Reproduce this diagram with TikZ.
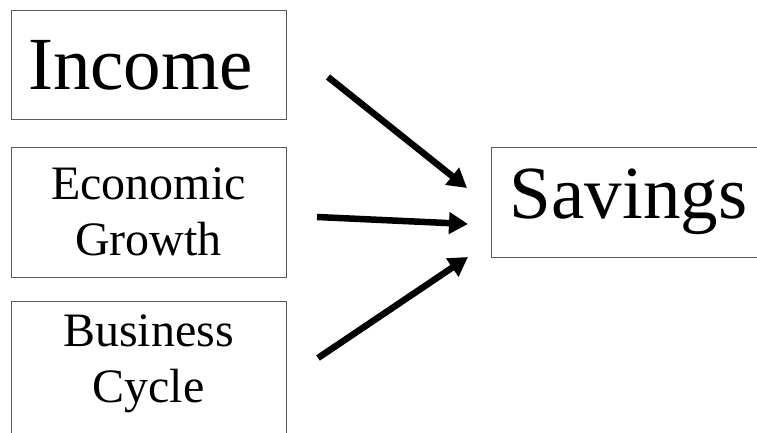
\documentclass[tikz,border=0pt]{standalone}
\usepackage{fontspec}
\setmainfont{Liberation Serif}
\usetikzlibrary{arrows.meta}
\begin{document}
\begin{tikzpicture}[x=1pt,y=-1pt,
  box/.style={draw=black!65, line width=1pt, inner sep=0pt, minimum width=275pt},
  lbl/.style={align=center, inner sep=0pt},
  big/.style={font=\fontsize{75}{80}\selectfont},
  mid/.style={font=\fontsize{48}{56}\selectfont},
  arr/.style={line width=6.5pt, -{Triangle[length=19pt,width=21pt]}}]
\useasboundingbox (0,0) rectangle (757,433);
\clip (0,0) rectangle (757,433);
\node[box, big, minimum height=109pt] (income) at (148.5,65.5) {\hspace*{-16pt}Income};
\node[box, mid, minimum height=130pt, lbl] (growth) at (148.5,212) {Economic\\Growth};
\node[box, minimum height=140pt, anchor=north] (cyclebox) at (148.5,300.5) {};
\node[lbl, mid] (cycle) at (148.5,363.5) {Business\\Cycle};
\node[box, big, minimum width=274pt, minimum height=110pt] (savings) at (628.5,202) {Savings};
\coordinate (s1) at (328,77);
\coordinate (e1) at (467,188);
\coordinate (s2) at (317,217);
\coordinate (e2) at (468,224);
\coordinate (s3) at (318,358);
\coordinate (e3) at (468,257);
\draw[arr] (s1) -- (e1);
\draw[arr] (s2) -- (e2);
\draw[arr] (s3) -- (e3);
\end{tikzpicture}
\end{document}
